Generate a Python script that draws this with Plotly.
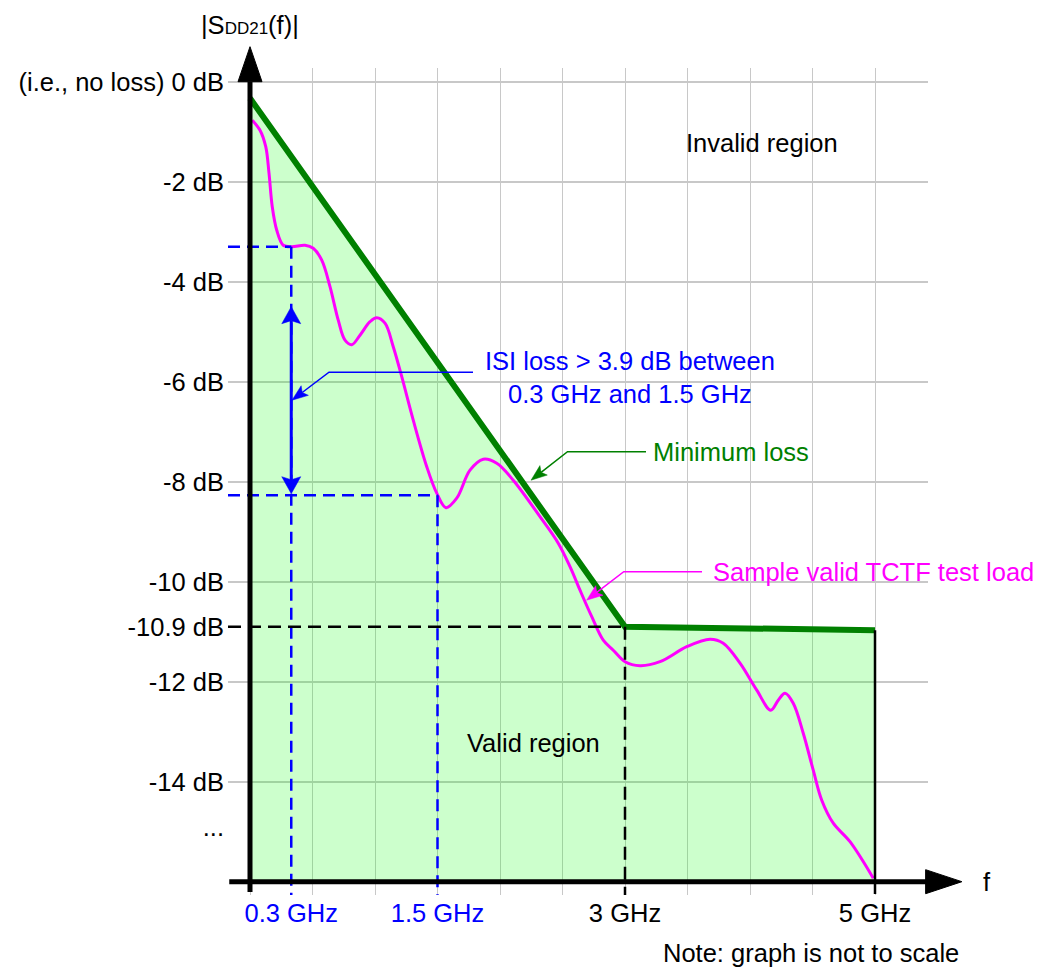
import math
import plotly.graph_objects as go

# ---------------- data ----------------
# Minimum loss limit line (display frequency position in GHz, dB)
min_loss_f = [0.0, 3.0, 5.0]
min_loss_db = [-0.33, -10.9, -10.97]

# Sample valid TCTF test load
tctf_f = [0.018, 0.08, 0.126, 0.152, 0.178, 0.214, 0.266, 0.334, 0.44, 0.506,
          0.574, 0.64, 0.706, 0.76, 0.814, 0.88, 0.96, 1.014, 1.08, 1.146,
          1.214, 1.306, 1.414, 1.494, 1.568, 1.654, 1.76, 1.866, 1.974, 2.106,
          2.32, 2.466, 2.56, 2.64, 2.734, 2.826, 2.906, 3.0, 3.12,
          3.28, 3.494, 3.68, 3.786, 3.92, 4.054, 4.166, 4.226, 4.28, 4.346,
          4.426, 4.506, 4.574, 4.666, 4.80, 4.986]
tctf_db = [-0.77, -0.97, -1.30, -1.83, -2.50, -2.97, -3.27, -3.30, -3.27, -3.33,
           -3.57, -4.10, -4.77, -5.17, -5.26, -5.07, -4.80, -4.72, -4.83, -5.30,
           -5.90, -6.77, -7.70, -8.23, -8.52, -8.33, -7.77, -7.55, -7.63, -7.97,
           -8.70, -9.23, -9.70, -10.17, -10.70, -11.17, -11.37, -11.60, -11.68,
           -11.60, -11.30, -11.15, -11.23, -11.63, -12.17, -12.57, -12.37, -12.23, -12.43,
           -13.03, -13.77, -14.37, -14.83, -15.20, -15.93]

floor_db = -16.0

y_tick_vals = [0, -2, -4, -6, -8, -10, -12, -14]
y_tick_text = ["(i.e., no loss) 0 dB", "-2 dB", "-4 dB", "-6 dB", "-8 dB",
               "-10 dB", "-12 dB", "-14 dB"]
y_extra_vals = [-10.9, -14.9]
y_extra_text = ["-10.9 dB", "..."]

x_tick_pos = [0.33, 1.5, 3.0, 5.0]
x_tick_text = ["0.3 GHz", "1.5 GHz", "3 GHz", "5 GHz"]
x_tick_colors = ["#0000FF", "#0000FF", "#000000", "#000000"]

isi_pos = [0.33, 1.5]
isi_db = [-3.3, -8.27]
corner_f = 3.0
corner_db = -10.9
end_f = 5.0
end_db = -10.97

# ---------------- style ----------------
FONT = "Liberation Sans, Arial, sans-serif"
FS = 25.5
BLUE = "#0000FF"
GREEN = "#008000"
MAGENTA = "#FF00FF"
X0, X1 = -0.176, 5.424
Y0, Y1 = -16.266, 0.274
SX = 125.0  # px per GHz unit
SY = 50.0   # px per dB


def px(v):
    return (v - X0) / (X1 - X0)


def py(v):
    return (v - Y0) / (Y1 - Y0)


def head(tail, tip, L, W, notch=0.8):
    """Arrowhead path (data coords) and the point where the shaft should end."""
    tu, tv = tip[0] * SX, tip[1] * SY
    au, av = tail[0] * SX, tail[1] * SY
    du, dv = tu - au, tv - av
    n = math.hypot(du, dv)
    du, dv = du / n, dv / n
    pu, pv = -dv, du
    bu, bv = tu - L * du, tv - L * dv
    nu, nv = tu - notch * L * du, tv - notch * L * dv
    pts = [(tu, tv), (bu + W * pu, bv + W * pv), (nu, nv), (bu - W * pu, bv - W * pv)]
    path = "M " + " L ".join("%.5f,%.5f" % (u / SX, v / SY) for u, v in pts) + " Z"
    return path, (nu / SX, nv / SY)


fig = go.Figure()

# valid region fill
fig.add_trace(go.Scatter(
    x=min_loss_f + [end_f, 0.0], y=min_loss_db + [floor_db, floor_db],
    fill="toself", fillcolor="rgba(0,255,0,0.2)", mode="lines",
    line=dict(width=0), hoverinfo="skip", showlegend=False))

# sample TCTF
fig.add_trace(go.Scatter(
    x=tctf_f, y=tctf_db, mode="lines",
    line=dict(color=MAGENTA, width=3, shape="spline", smoothing=1.0),
    showlegend=False))

# minimum loss
fig.add_trace(go.Scatter(
    x=min_loss_f, y=min_loss_db, mode="lines",
    line=dict(color=GREEN, width=6), showlegend=False))

# dummy trace to carry the secondary tick axes
fig.add_trace(go.Scatter(x=[None], y=[None], xaxis="x2", yaxis="y2",
                         showlegend=False, hoverinfo="skip"))

shapes = []
dash = "12px,7px"
for p, d in zip(isi_pos, isi_db):
    shapes.append(dict(type="line", x0=X0, x1=p, y0=d, y1=d, layer="above",
                       line=dict(color=BLUE, width=2.5, dash=dash)))
    shapes.append(dict(type="line", x0=p, x1=p, y0=d, y1=Y0, layer="above",
                       line=dict(color=BLUE, width=2.5, dash=dash)))
shapes.append(dict(type="line", x0=X0, x1=corner_f, y0=corner_db, y1=corner_db,
                   layer="above", line=dict(color="black", width=2.5, dash="13px,7px")))
shapes.append(dict(type="line", x0=corner_f, x1=corner_f, y0=corner_db, y1=Y0,
                   layer="above", line=dict(color="black", width=2.5, dash="13px,7px")))
shapes.append(dict(type="line", x0=end_f, x1=end_f, y0=end_db, y1=Y0 + 0.02,
                   layer="above", line=dict(color="black", width=2.5)))

# axes lines
shapes.append(dict(type="line", x0=X0 + 0.01, x1=5.41, y0=floor_db, y1=floor_db,
                   layer="above", line=dict(color="black", width=5)))
shapes.append(dict(type="line", x0=0, x1=0, y0=Y0 + 0.06, y1=0.0,
                   layer="above", line=dict(color="black", width=5)))

# axis arrow heads (paper coordinates, outside the plot area)
hw_x = 12 / SX
hw_y = 12 / SY
shapes.append(dict(
    type="path", xref="paper", yref="paper", layer="above",
    path="M {a},{b} L {c},{b} L {d},{e} Z".format(
        a=px(-hw_x), b=py(0.0), c=px(hw_x), d=px(0.0), e=py(0.70)),
    fillcolor="black", line=dict(color="black", width=1)))
shapes.append(dict(
    type="path", xref="paper", yref="paper", layer="above",
    path="M {a},{b} L {a},{c} L {d},{e} Z".format(
        a=px(5.405), b=py(floor_db + hw_y), c=py(floor_db - hw_y),
        d=px(5.695), e=py(floor_db)),
    fillcolor="black", line=dict(color="black", width=1)))

# leader lines: horizontal part, then diagonal part with arrow head
leaders = [
    (1.784, 0.632, -5.81, 0.336, -6.37, BLUE),
    (3.168, 2.540, -7.40, 2.248, -7.97, GREEN),
    (3.616, 2.990, -9.80, 2.693, -10.37, MAGENTA),
]
for xa, xb, yy, xt, yt, col in leaders:
    hp, shaft_end = head((xb, yy), (xt, yt), L=16, W=6, notch=0.8)
    shapes.append(dict(type="path", layer="above",
                       path="M %.5f,%.5f L %.5f,%.5f L %.5f,%.5f" % (
                           xa, yy, xb, yy, shaft_end[0], shaft_end[1]),
                       line=dict(color=col, width=1.5)))
    shapes.append(dict(type="path", layer="above", path=hp, fillcolor=col,
                       line=dict(color=col, width=0.5)))

# ISI double arrow
dbl_top = -4.5
dbl_bot = isi_db[1] + 0.03
hp1, e1 = head((isi_pos[0], dbl_bot), (isi_pos[0], dbl_top), L=17, W=9.5, notch=0.82)
hp2, e2 = head((isi_pos[0], dbl_top), (isi_pos[0], dbl_bot), L=17, W=9.5, notch=0.82)
shapes.append(dict(type="line", layer="above", x0=e1[0], y0=e1[1], x1=e2[0], y1=e2[1],
                   line=dict(color=BLUE, width=3)))
for hp in (hp1, hp2):
    shapes.append(dict(type="path", layer="above", path=hp, fillcolor=BLUE,
                       line=dict(color=BLUE, width=0.5)))

annotations = []


def txt(x, y, s, col="black", xanchor="center", paper=False):
    if paper:
        annotations.append(dict(x=px(x), y=py(y), xref="paper", yref="paper", text=s,
                                showarrow=False, xanchor=xanchor, yanchor="middle",
                                font=dict(family=FONT, size=FS, color=col)))
    else:
        annotations.append(dict(x=x, y=y, xref="x", yref="y", text=s, showarrow=False,
                                xanchor=xanchor, yanchor="middle",
                                font=dict(family=FONT, size=FS, color=col)))


txt(3.04, -5.91, "ISI loss > 3.9 dB between<br>0.3 GHz and 1.5 GHz", BLUE)
txt(3.208, -7.40, "Minimum loss", GREEN, xanchor="left")
txt(3.688, -9.80, "Sample valid TCTF test load", MAGENTA, xanchor="left")
txt(4.096, -1.23, "Invalid region")
txt(2.268, -13.23, "Valid region")
txt(3.288, -17.43, "Note: graph is not to scale", xanchor="left", paper=True)
txt(5.896, -16.0, "f", paper=True)
txt(0.0, 1.134, "|S<span style='font-size:17px'>DD21</span>(f)|", paper=True)

grid = "#c8c8c8"
fig.update_layout(
    width=1042, height=970,
    margin=dict(l=228, r=114, t=68, b=75, pad=0),
    paper_bgcolor="white", plot_bgcolor="white",
    showlegend=False,
    font=dict(family=FONT, size=FS, color="black"),
    shapes=shapes, annotations=annotations,
    xaxis=dict(range=[X0, X1], tick0=0, dtick=0.5, showgrid=True, gridcolor=grid,
               gridwidth=1.2, showticklabels=False, zeroline=False, showline=False,
               ticks=""),
    xaxis2=dict(range=[X0, X1], overlaying="x", anchor="y", side="bottom",
                tickvals=x_tick_pos,
                ticktext=["<span style='color:%s'>%s</span>" % (c, t)
                          for c, t in zip(x_tick_colors, x_tick_text)],
                showgrid=False, zeroline=False, showline=False, ticks="",
                tickfont=dict(family=FONT, size=FS)),
    yaxis=dict(range=[Y0, Y1], tickvals=y_tick_vals, ticktext=y_tick_text,
               showgrid=True, gridcolor=grid, gridwidth=1.5, zeroline=False,
               showline=False, ticks="", ticklabelstandoff=3,
               tickfont=dict(family=FONT, size=FS)),
    yaxis2=dict(range=[Y0, Y1], overlaying="y", anchor="x", side="left",
                tickvals=y_extra_vals, ticktext=y_extra_text, showgrid=False,
                zeroline=False, showline=False, ticks="", ticklabelstandoff=3,
                tickfont=dict(family=FONT, size=FS)),
)

fig.write_html("out.html", config={"displayModeBar": False},
               post_script="document.body.style.margin='0';")
